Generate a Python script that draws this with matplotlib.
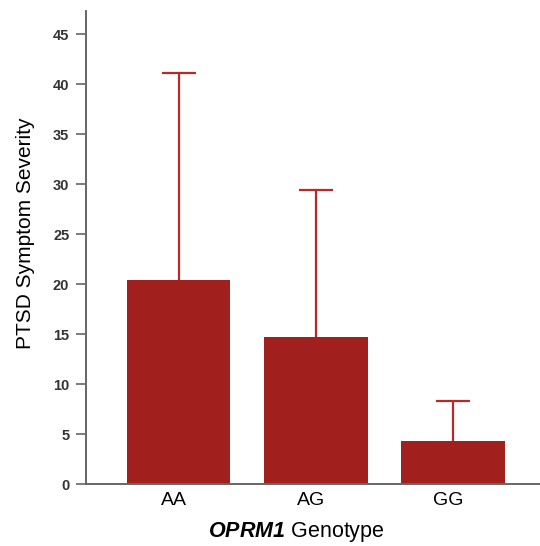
import matplotlib
matplotlib.use('Agg')
import matplotlib.pyplot as plt
from matplotlib.transforms import ScaledTranslation

genotypes = ['AA', 'AG', 'GG']
severity = [20.4, 14.7, 4.3]
severity_err = [20.7, 14.7, 4.0]
yticks = [0, 5, 10, 15, 20, 25, 30, 35, 40, 45]

plt.rcParams['font.family'] = 'Liberation Sans'
plt.rcParams['mathtext.fontset'] = 'custom'
plt.rcParams['mathtext.bfit'] = 'Liberation Sans:italic:bold'

bar_color = '#A11F1C'
err_color = '#B8292A'
axis_color = '#666666'

fig = plt.figure(figsize=(5.4, 5.46), dpi=100)
ax = fig.add_axes([86/540, 62/546, 454/540, 473/546])

x = range(len(genotypes))
ax.bar(x, severity, width=0.756, color=bar_color, zorder=2)
eb = ax.errorbar(x, severity, yerr=[[0]*3, severity_err], fmt='none',
                 ecolor=err_color, elinewidth=1.6, capsize=12.5, capthick=1.6, zorder=1)
# only the upper cap is wanted
eb[1][0].set_visible(False)

ax.set_xlim(-0.673, 2.63)
ax.set_ylim(0, 47.3)
ax.set_yticks(yticks)
ax.set_yticklabels([str(t) for t in yticks], fontsize=10.5, fontweight='bold', color='#333333')
ax.set_xticks(list(x))
ax.set_xticklabels(genotypes, fontsize=14)
ax.tick_params(axis='x', length=0, pad=6)
ax.tick_params(axis='y', length=7, width=1.2, color=axis_color, pad=5)
shift = ScaledTranslation(-5/100, 0, fig.dpi_scale_trans)
for lbl in ax.get_xticklabels():
    lbl.set_transform(lbl.get_transform() + shift)

for s in ['top', 'right']:
    ax.spines[s].set_visible(False)
for s in ['left', 'bottom']:
    ax.spines[s].set_color(axis_color)
    ax.spines[s].set_linewidth(1.4)

fig.text(26/540, 1 - 233/546, 'PTSD Symptom Severity', rotation=90,
         ha='center', va='center', fontsize=15)
fig.text(296/540, 1 - 532/546, r'$\mathbfit{OPRM1}$ Genotype',
         ha='center', va='center', fontsize=15.5)

fig.savefig('out.png', dpi=100)
